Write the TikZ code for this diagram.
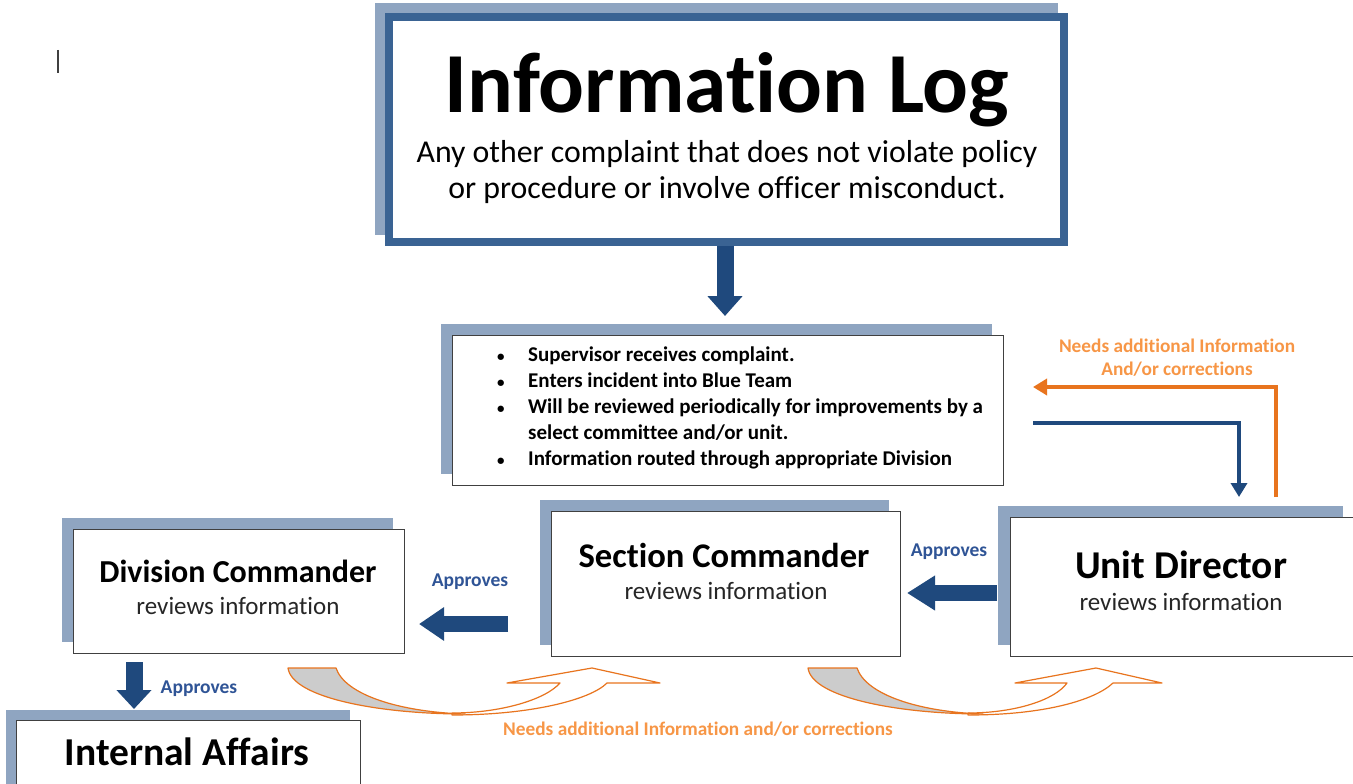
\documentclass[tikz,border=0pt]{standalone}
\usepackage{fontspec}
\setmainfont{Carlito}[Ligatures=NoCommon]
\usetikzlibrary{arrows.meta,calc,backgrounds}
\definecolor{shadowblue}{HTML}{8FA5C1}
\definecolor{frameblue}{HTML}{3A6393}
\definecolor{arrowblue}{HTML}{1F497D}
\definecolor{labelblue}{HTML}{2F5496}
\definecolor{orangeline}{HTML}{E8741E}
\definecolor{orangetext}{HTML}{F79646}
\definecolor{curvegray}{HTML}{CCCCCC}
\newcommand{\blt}{\makebox[31pt][l]{\fontsize{15}{15}\selectfont\textbullet}}
\tikzset{
  box/.style={draw=black!75, line width=1.3pt, fill=white, inner sep=0pt, anchor=north west},
  txt/.style={inner sep=0pt, anchor=base},
  title/.style={txt, font=\bfseries\fontsize{32}{34}\selectfont},
  sub/.style={txt, font=\fontsize{25}{28}\selectfont, text=black!85},
  approves/.style={txt, font=\bfseries\fontsize{19.5}{22}\selectfont, text=labelblue},
  orangelabel/.style={txt, font=\bfseries\fontsize{19.3}{22}\selectfont, text=orangetext},
  blockarrow/.style={line width=#1, draw=arrowblue},
  elbow/.style={line width=4pt},
  curvearrow/.style={draw=orangeline, line width=1.2pt, line join=round},
}
\begin{document}
\begin{tikzpicture}[x=1pt,y=-1pt]
\useasboundingbox (0,0) rectangle (1353,784);
\clip (0,0) rectangle (1353,784);
\fill[white] (0,0) rectangle (1353,784);
% cursor mark
\draw[black!75, line width=1.4pt] (58,50) -- (58,73);

% ---- top box
\fill[shadowblue] (375,3) rectangle (1058,235);
\node[draw=frameblue, line width=8pt, fill=white, minimum width=675pt, minimum height=225pt, inner sep=0pt] (log) at (726.5,129.5) {};
\node[txt, font=\bfseries\fontsize{85.5}{88}\selectfont] (logtitle) at (727,112) {Information Log};
\node[txt, font=\fontsize{31.8}{36}\selectfont] (logsub) at (727,162) {Any other complaint that does not violate policy};
\node[txt, font=\fontsize{31.8}{36}\selectfont] (logsub2) at (727,198) {or procedure or involve officer misconduct.};

% ---- bullet box
\fill[shadowblue] (441,324) rectangle (992,474);
\node[box, minimum width=551pt, minimum height=150pt] (bul) at (452,335) {};
\node[inner sep=0pt, anchor=north west, align=left, font=\bfseries\fontsize{21}{26}\selectfont] (bultext) at (497,346.5)
 {\blt Supervisor receives complaint.\\
  \blt Enters incident into Blue Team\\
  \blt Will be reviewed periodically for improvements by a\\
  \hspace*{31pt}select committee and/or unit.\\
  \blt Information routed through appropriate Division};

% ---- division commander
\fill[shadowblue] (62,518) rectangle (393,642);
\node[box, minimum width=331pt, minimum height=124pt] (div) at (73,529) {};
\node[title] (divt) at (238,582) {Division Commander};
\node[sub] (divs) at (238,614) {reviews information};

% ---- section commander
\fill[shadowblue] (540,500) rectangle (889,645);
\node[box, minimum width=349pt, minimum height=145pt] (sec) at (551,511) {};
\node[title, font=\bfseries\fontsize{34.6}{36}\selectfont] (sect) at (724,567) {Section Commander};
\node[sub] (secs) at (726,599) {reviews information};

% ---- unit director
\fill[shadowblue] (998,506) rectangle (1343,645);
\node[box, minimum width=350pt, minimum height=139pt] (unit) at (1010,517) {};
\node[title, font=\bfseries\fontsize{39.4}{42}\selectfont] (unitt) at (1181,578) {Unit Director};
\node[sub] (units) at (1181,610) {reviews information};

% ---- internal affairs
\fill[shadowblue] (6,710) rectangle (350,800);
\node[box, minimum width=344pt, minimum height=90pt] (ia) at (16,720) {};
\node[title, font=\bfseries\fontsize{39.5}{42}\selectfont] (iat) at (187,765) {Internal Affairs};

% ---- block arrows
\coordinate (a1s) at (725,246); \coordinate (a1e) at (725,316);
\draw[blockarrow=17pt, -{Triangle[width=34pt,length=20pt]}] (a1s) -- (a1e);
\coordinate (a2s) at (508,624); \coordinate (a2e) at (419,624);
\draw[blockarrow=16pt, -{Triangle[width=32pt,length=25pt]}] (a2s) -- (a2e);
\coordinate (a3s) at (997,593); \coordinate (a3e) at (907,593);
\draw[blockarrow=16pt, -{Triangle[width=33pt,length=28pt]}] (a3s) -- (a3e);
\coordinate (a4s) at (134,662); \coordinate (a4e) at (134,709);
\draw[blockarrow=17pt, -{Triangle[width=34pt,length=19pt]}] (a4s) -- (a4e);

\node[approves] (ap1) at (470,586) {Approves};
\node[approves] (ap2) at (949,556) {Approves};
\node[approves] (ap3) at (199,693) {Approves};

% ---- elbow connectors
\coordinate (o1) at (1276,497); \coordinate (o2) at (1033,387);
\draw[elbow, orangeline, -{Triangle[width=16pt,length=14pt]}] (o1) |- (o2);
\coordinate (b1) at (1033,423); \coordinate (b2) at (1239,497);
\draw[elbow, arrowblue, -{Triangle[width=16pt,length=14pt]}] (b1) -| (b2);
\node[orangelabel] (needs1) at (1177,352) {Needs additional Information};
\node[orangelabel] (needs2) at (1177,375) {And/or corrections};

% ---- curved arrows
\draw[curvearrow, fill=white] (452,713) .. controls (500,713) and (545,700) .. (560,683) -- (507,683) -- (592,668) -- (660,683) -- (607,683) .. controls (590,700) and (530,715) .. (452,715) -- cycle;
\draw[curvearrow, fill=curvegray] (288,668) -- (336,668) .. controls (345,695) and (400,712) .. (465,714) .. controls (380,714) and (292,698) .. (288,668) -- cycle;

\draw[curvearrow, fill=white] (968,713) .. controls (1015,713) and (1055,700) .. (1067,683) -- (1015,683) -- (1096,668) -- (1162,683) -- (1113,683) .. controls (1095,700) and (1045,715) .. (968,715) -- cycle;
\draw[curvearrow, fill=curvegray] (808,668) -- (857,668) .. controls (866,695) and (920,712) .. (983,714) .. controls (900,714) and (812,698) .. (808,668) -- cycle;

\node[orangelabel] (needs3) at (698,735) {Needs additional Information and/or corrections};
\end{tikzpicture}
\end{document}
